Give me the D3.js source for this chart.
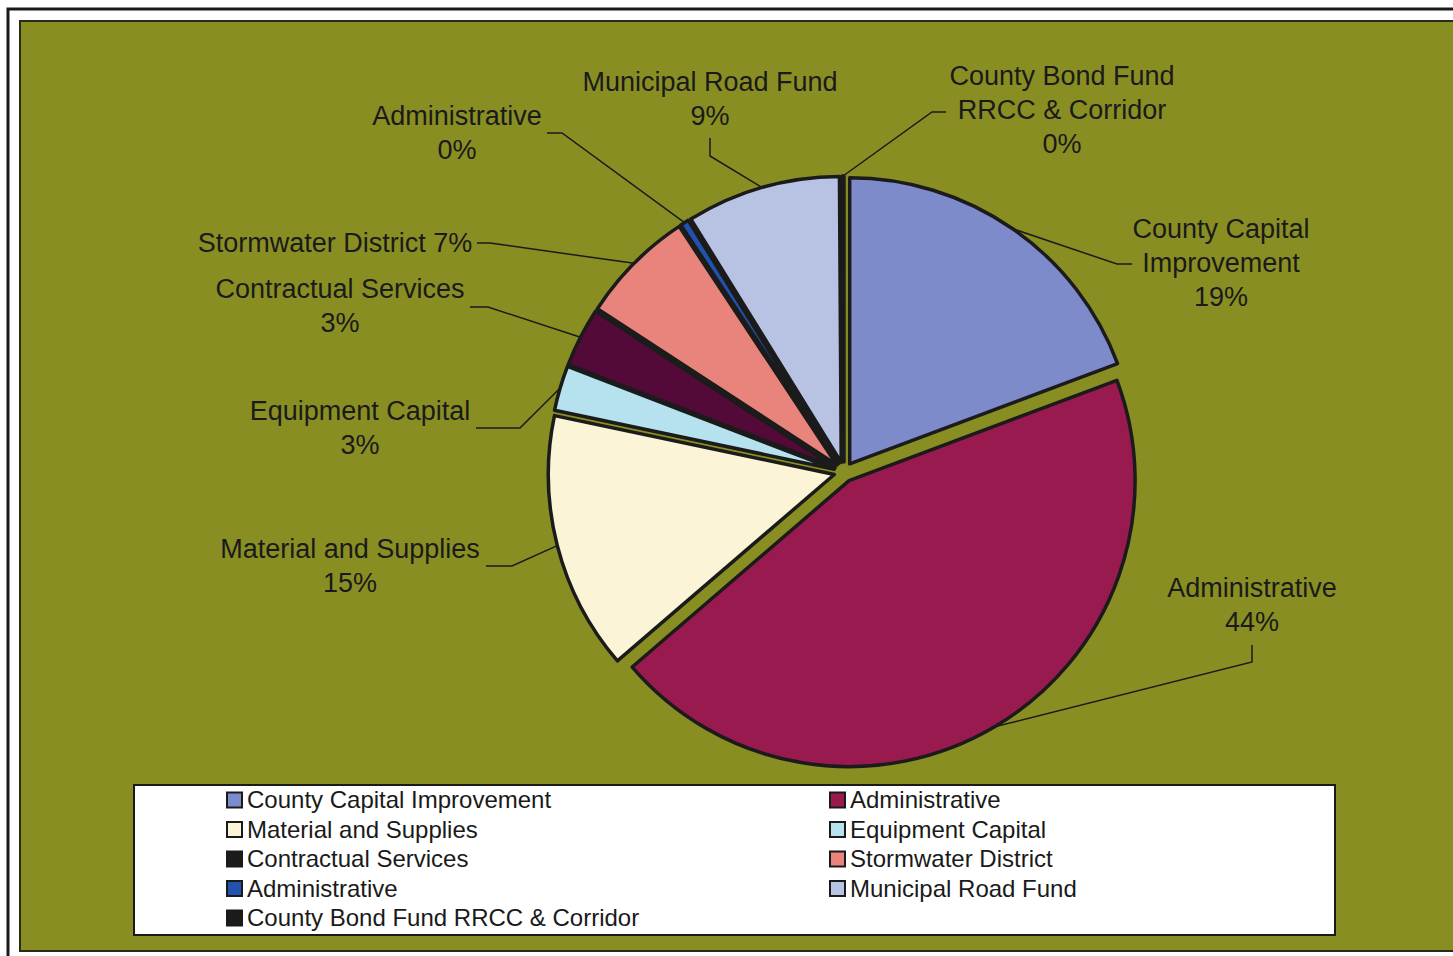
<!DOCTYPE html>
<html>
<head>
<meta charset="utf-8">
<script src="https://cdn.jsdelivr.net/npm/d3@7"></script>
<style>
  body { margin: 0; background: #fff; }
  svg text { font-family: "Liberation Sans", Arial, sans-serif; fill: #1a1a1a; }
</style>
</head>
<body>
<div id="chart"></div>
<script>
// slice data, clockwise from 12 o'clock
var categories = ['County Capital Improvement', 'Administrative', 'Material and Supplies',
  'Equipment Capital', 'Contractual Services', 'Stormwater District', 'Administrative',
  'Municipal Road Fund', 'County Bond Fund RRCC & Corridor'];
var values = [19.3, 44.4, 14.6, 2.55, 3.35, 6.5, 0.49, 8.71, 0.1];
var colors = ['#7d8bcb', '#991a4e', '#fcf4d6', '#b6e1ee', '#540a38', '#e8847b', '#2351b0',
  '#b8c2e3', '#1b1b1b'];
var legendColors = ['#7d8bcb', '#991a4e', '#fcf4d6', '#b6e1ee', '#1b1b1b', '#e8847b', '#2351b0',
  '#b8c2e3', '#1b1b1b'];
// data label text lines (percentage is appended)
var labelLines = [['County Capital', 'Improvement'], ['Administrative'], ['Material and Supplies'],
  ['Equipment Capital'], ['Contractual Services'], ['Stormwater District'], ['Administrative'],
  ['Municipal Road Fund'], ['County Bond Fund', 'RRCC & Corridor']];

// layout for the labels: centre of first line + leader start/elbow
var labelPos = [
  { x: 1221, y: 229, start: [1132, 264], elbow: [1117, 264] },
  { x: 1252, y: 588, start: [1252, 645], elbow: [1252, 662] },
  { x: 350, y: 549, start: [486, 566], elbow: [512, 566] },
  { x: 360, y: 411, start: [476, 428], elbow: [520, 428] },
  { x: 340, y: 289, start: [470, 307], elbow: [488, 307] },
  { x: 335, y: 243, start: [477, 243], elbow: [490, 243], inline: true },
  { x: 457, y: 116, start: [547, 133], elbow: [562, 133] },
  { x: 710, y: 82, start: [710, 138], elbow: [710, 156] },
  { x: 1062, y: 76, start: [946, 112], elbow: [932, 112] }
];

var W = 1453, H = 956;
var cx = 844, cy = 472, R = 286, explode = 10;
var lineH = 34;

var svg = d3.select('#chart').append('svg').attr('width', W).attr('height', H);

// page frame and plot background
svg.append('path').attr('d', 'M8,956 L8,9 L1453,9')
    .attr('fill', 'none').attr('stroke', '#1a1a1a').attr('stroke-width', 3);
svg.append('rect').attr('x', 20).attr('y', 21).attr('width', 1440).attr('height', 930)
    .attr('fill', '#898e23').attr('stroke', '#2a2a1a').attr('stroke-width', 2);

var pie = d3.pie().sort(null).value(function(d) { return d; });
var arcs = pie(values);
var arc = d3.arc().innerRadius(0).outerRadius(R);

var midAngle = function(a) { return (a.startAngle + a.endAngle) / 2; };

/**
   * Point on the slice rim at the middle angle, including the explosion offset.
   */
var rimPoint = function(a) {
  var m = midAngle(a), r = R + explode;
  return [cx + Math.sin(m) * r, cy - Math.cos(m) * r];
};

// leader lines
svg.selectAll('polyline.leader').data(arcs).enter().append('polyline')
    .attr('class', 'leader')
    .attr('points', function(d, i) {
      var p = labelPos[i];
      return [p.start, p.elbow, rimPoint(d)].map(function(q) { return q.join(','); }).join(' ');
    })
    .attr('fill', 'none').attr('stroke', '#1a1a1a').attr('stroke-width', 1.5);

// exploded slices
svg.selectAll('path.slice').data(arcs).enter().append('path')
    .attr('class', 'slice')
    .attr('transform', function(d) {
      var m = midAngle(d);
      return 'translate(' + (cx + Math.sin(m) * explode) + ',' + (cy - Math.cos(m) * explode) + ')';
    })
    .attr('d', arc)
    .attr('fill', function(d, i) { return colors[i]; })
    .attr('stroke', '#1b1b1b').attr('stroke-width', 3.5).attr('stroke-linejoin', 'round');

// data labels
arcs.forEach(function(d, i) {
  var p = labelPos[i];
  var pct = Math.round(values[i]) + '%';
  var lines = labelLines[i].slice();
  if (p.inline) lines[lines.length - 1] += ' ' + pct; else lines.push(pct);
  var t = svg.append('text').attr('text-anchor', 'middle').style('font-size', '27px');
  lines.forEach(function(s, k) {
    t.append('tspan').attr('x', p.x).attr('y', p.y + k * lineH).attr('dy', '0.35em').text(s);
  });
});

// legend
var legend = svg.append('g');
legend.append('rect').attr('x', 134).attr('y', 785).attr('width', 1201).attr('height', 150)
    .attr('fill', '#fff').attr('stroke', '#1a1a1a').attr('stroke-width', 2);
var colX = [227, 830], rowY0 = 800, rowH = 29.5;
categories.forEach(function(c, i) {
  var x = colX[i % 2], y = rowY0 + Math.floor(i / 2) * rowH;
  legend.append('rect').attr('x', x).attr('y', y - 7.5).attr('width', 15).attr('height', 15)
      .attr('fill', legendColors[i]).attr('stroke', '#1a1a1a').attr('stroke-width', 2);
  legend.append('text').attr('x', x + 20).attr('y', y).attr('dy', '0.35em')
      .style('font-size', '24px').text(c);
});
</script>
</body>
</html>
